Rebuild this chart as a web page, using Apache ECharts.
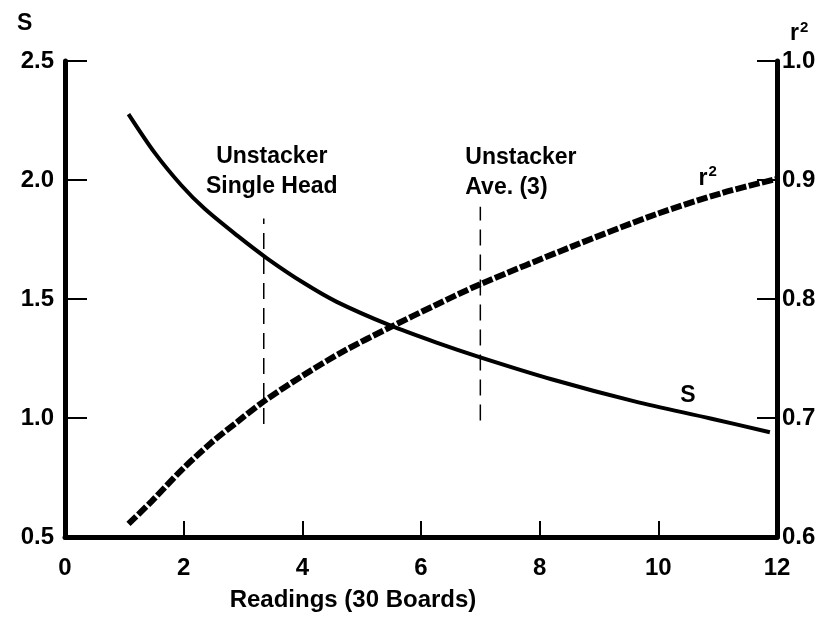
<!DOCTYPE html>
<html>
<head>
<meta charset="utf-8">
<script src="https://cdn.jsdelivr.net/npm/echarts@6/dist/echarts.min.js"></script>
<style>
html,body{margin:0;padding:0;background:#fff;}
#chart{width:828px;height:622px;}
</style>
</head>
<body>
<div id="chart"></div>
<script>
// ---- data ----
const xTickLabels = ['0', '2', '4', '6', '8', '10', '12'];
const sTickLabels = ['0.5', '1.0', '1.5', '2.0', '2.5'];
const r2TickLabels = ['0.6', '0.7', '0.8', '0.9', '1.0'];

const sX = [1.07, 1.51, 1.96, 2.35, 2.91, 3.41, 4.02, 4.58, 5.47, 6.25, 7.00, 8.20, 9.60, 10.88, 11.88];
const sY = [2.277, 2.115, 1.978, 1.88, 1.765, 1.67, 1.568, 1.488, 1.39, 1.318, 1.255, 1.163, 1.07, 0.998, 0.94];

const r2X = [1.07, 1.46, 1.96, 2.46, 2.91, 3.35, 4.02, 4.69, 5.47, 6.25, 6.98, 8.54, 9.95, 11.07, 12.0];
const r2Y = [0.611, 0.630, 0.656, 0.679, 0.697, 0.714, 0.736, 0.756, 0.776, 0.795, 0.812, 0.844, 0.871, 0.889, 0.901];

const singleHeadX = 3.35;
const singleHeadS = [0.975, 1.838];
const aveX = 7.0;
const aveS = [0.99, 1.888];

// ---- chart ----
const FONT = 'Liberation Sans, Arial, Helvetica, sans-serif';
const chart = echarts.init(document.getElementById('chart'), null, {renderer: 'canvas'});

const axisLineStyle = {color: '#000', width: 5};
const tickStyle = {color: '#000', width: 2};

const option = {
  animation: false,
  backgroundColor: '#fff',
  grid: {left: 65, right: 51, top: 61, bottom: 85, containLabel: false},
  xAxis: {
    type: 'value', min: 0, max: 12, interval: 2,
    axisLine: {show: true, lineStyle: axisLineStyle},
    axisTick: {show: true, inside: true, length: 16, lineStyle: tickStyle},
    splitLine: {show: false},
    axisLabel: {
      color: '#000', fontFamily: FONT, fontWeight: 'bold', fontSize: 24, margin: 19,
      formatter: v => xTickLabels[Math.round(v / 2)]
    },
    name: 'Readings (30 Boards)', nameLocation: 'middle', nameGap: 51,
    nameTextStyle: {color: '#000', fontFamily: FONT, fontWeight: 'bold', fontSize: 24,
                    padding: [0, 136, 0, 0]}
  },
  yAxis: [{
    type: 'value', min: 0.5, max: 2.5, interval: 0.5, position: 'left',
    axisLine: {show: true, onZero: false, lineStyle: axisLineStyle},
    axisTick: {show: true, inside: true, length: 22, lineStyle: tickStyle},
    splitLine: {show: false},
    axisLabel: {
      color: '#000', fontFamily: FONT, fontWeight: 'bold', fontSize: 24, margin: 11,
      formatter: v => sTickLabels[Math.round((v - 0.5) / 0.5)]
    }
  }, {
    type: 'value', min: 0.6, max: 1.0, interval: 0.1, position: 'right',
    axisLine: {show: true, onZero: false, lineStyle: axisLineStyle},
    axisTick: {show: true, inside: true, length: 20, lineStyle: tickStyle},
    splitLine: {show: false},
    axisLabel: {
      color: '#000', fontFamily: FONT, fontWeight: 'bold', fontSize: 24, margin: 5,
      formatter: v => r2TickLabels[Math.round((v - 0.6) / 0.1)]
    }
  }],
  graphic: [
    {type: 'text', left: 17, top: 12,
     style: {text: 'S', fill: '#000', font: 'bold 23px ' + FONT}},
    {type: 'text', left: 790, top: 20,
     style: {text: 'r{s|2}', fill: '#000', font: 'bold 23px ' + FONT,
             rich: {s: {fontSize: 15, fontWeight: 'bold', fontFamily: FONT, fill: '#000', padding: [0, 0, 12, 1]}}}}
  ],
  series: [
    {
      name: 'S', type: 'line', yAxisIndex: 0, smooth: 0.3, symbol: 'none',
      lineStyle: {color: '#000', width: 4},
      data: sX.map((x, i) => [x, sY[i]]),
      markPoint: {
        symbol: 'circle', symbolSize: 0, silent: true,
        data: [{
          coord: [10.5, 1.02],
          label: {show: true, position: 'top', distance: 6, formatter: 'S',
                  color: '#000', fontFamily: FONT, fontWeight: 'bold', fontSize: 23}
        }]
      },
      z: 3
    },
    {
      name: 'r2', type: 'line', yAxisIndex: 1, smooth: 0.3, symbol: 'none',
      lineStyle: {color: '#000', width: 6, type: [11, 2.5], cap: 'butt'},
      data: r2X.map((x, i) => [x, r2Y[i]]),
      markPoint: {
        symbol: 'circle', symbolSize: 0, silent: true,
        data: [{
          coord: [10.83, 0.885],
          label: {show: true, position: 'top', distance: 6, formatter: 'r{s|2}',
                  color: '#000', fontFamily: FONT, fontWeight: 'bold', fontSize: 23,
                  rich: {s: {fontSize: 15, fontWeight: 'bold', fontFamily: FONT, color: '#000', padding: [0, 0, 12, 1]}}}
        }]
      },
      z: 3
    },
    {
      name: 'Unstacker Single Head', type: 'line', yAxisIndex: 0, symbol: 'none',
      lineStyle: {color: '#000', width: 1.5, type: [16, 9]},
      data: singleHeadS.map(v => [singleHeadX, v]),
      markPoint: {
        symbol: 'circle', symbolSize: 0, silent: true,
        data: [{
          coord: [singleHeadX, singleHeadS[1]],
          label: {show: true, position: 'top', distance: 17, align: 'center', offset: [8, 0],
                  formatter: 'Unstacker\nSingle Head', lineHeight: 30,
                  color: '#000', fontFamily: FONT, fontWeight: 'bold', fontSize: 23}
        }]
      }
    },
    {
      name: 'Unstacker Ave. (3)', type: 'line', yAxisIndex: 0, symbol: 'none',
      lineStyle: {color: '#000', width: 1.5, type: [16, 9]},
      data: aveS.map(v => [aveX, v]),
      markPoint: {
        symbol: 'circle', symbolSize: 0, silent: true,
        data: [{
          coord: [aveX, aveS[1]],
          label: {show: true, position: 'top', distance: 4, align: 'left', offset: [-15, 0],
                  formatter: 'Unstacker\nAve. (3)', lineHeight: 30,
                  color: '#000', fontFamily: FONT, fontWeight: 'bold', fontSize: 23}
        }]
      }
    }
  ]
};
chart.setOption(option);
</script>
</body>
</html>
